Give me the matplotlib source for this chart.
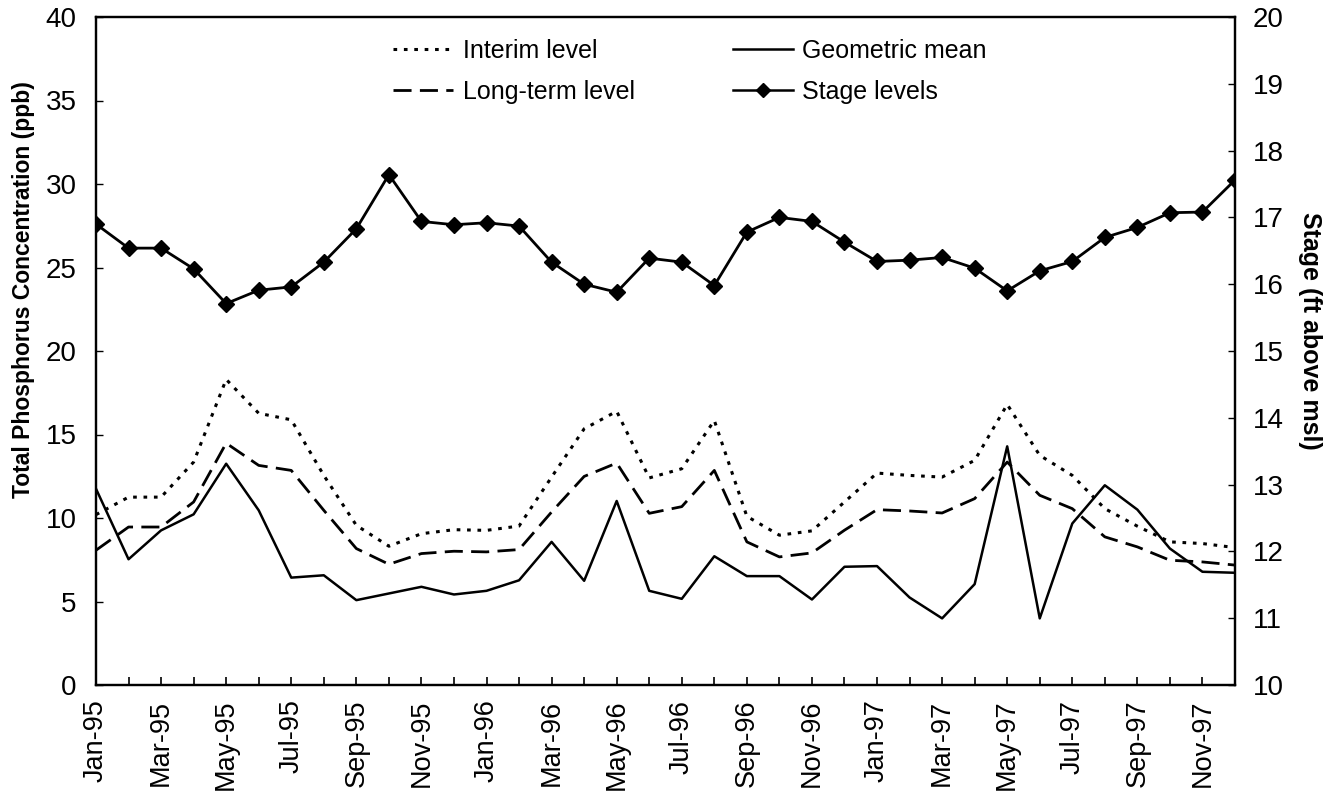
import matplotlib
matplotlib.use("Agg")
import matplotlib.pyplot as plt
from matplotlib.lines import Line2D

plt.rcParams['font.family'] = ['Liberation Sans', 'DejaVu Sans']

months = ['Jan-95', 'Feb-95', 'Mar-95', 'Apr-95', 'May-95', 'Jun-95', 'Jul-95', 'Aug-95',
          'Sep-95', 'Oct-95', 'Nov-95', 'Dec-95', 'Jan-96', 'Feb-96', 'Mar-96', 'Apr-96',
          'May-96', 'Jun-96', 'Jul-96', 'Aug-96', 'Sep-96', 'Oct-96', 'Nov-96', 'Dec-96',
          'Jan-97', 'Feb-97', 'Mar-97', 'Apr-97', 'May-97', 'Jun-97', 'Jul-97', 'Aug-97',
          'Sep-97', 'Oct-97', 'Nov-97', 'Dec-97']

interim = [10.2, 11.25, 11.25, 13.35, 18.3, 16.27, 15.88, 12.55, 9.56, 8.31, 9.06, 9.3,
           9.26, 9.52, 12.45, 15.34, 16.39, 12.4, 12.95, 15.84, 10.1, 8.97, 9.23, 10.96,
           12.69, 12.55, 12.45, 13.45, 16.8, 13.75, 12.55, 10.56, 9.51, 8.57, 8.47, 8.23]

longterm = [8.07, 9.46, 9.46, 10.96, 14.48, 13.15, 12.85, 10.46, 8.17, 7.23, 7.87, 8.01,
            7.97, 8.11, 10.36, 12.49, 13.29, 10.28, 10.68, 12.85, 8.57, 7.67, 7.91, 9.27,
            10.5, 10.42, 10.3, 11.16, 13.35, 11.36, 10.56, 8.87, 8.27, 7.47, 7.37, 7.18]

geomean = [11.75, 7.53, 9.26, 10.22, 13.25, 10.46, 6.43, 6.57, 5.08, 5.48, 5.88, 5.42,
           5.64, 6.27, 8.57, 6.24, 11.02, 5.64, 5.16, 7.71, 6.52, 6.52, 5.12, 7.08,
           7.12, 5.24, 3.99, 6.04, 14.29, 3.99, 9.67, 11.96, 10.5, 8.17, 6.78, 6.72]

stage = [16.90, 16.54, 16.54, 16.23, 15.71, 15.91, 15.96, 16.33, 16.83, 17.64, 16.94, 16.89,
         16.92, 16.87, 16.33, 16.00, 15.88, 16.39, 16.33, 15.98, 16.78, 17.00, 16.94, 16.63,
         16.34, 16.36, 16.40, 16.24, 15.90, 16.20, 16.34, 16.70, 16.85, 17.07, 17.08, 17.56]

x = list(range(len(months)))

W, H = 1331, 795
fig = plt.figure(figsize=(W / 100, H / 100), dpi=100)
ax = fig.add_axes([96 / W, 1 - 685 / H, (1235 - 96) / W, (685 - 17) / H])
ax2 = ax.twinx()

dot_style = dict(color='black', lw=2.2, linestyle=(0, (1.2, 2.2)))
dash_style = dict(color='black', lw=2.0, linestyle=(0, (6.5, 3.0)))
solid_style = dict(color='black', lw=1.8, linestyle='-')

ax.plot(x, interim, **dot_style)
ax.plot(x, longterm, **dash_style)
ax.plot(x, geomean, **solid_style)
ax2.plot(x, stage, color='black', lw=2.0, marker='D', markersize=8.5,
         markerfacecolor='black', markeredgecolor='black')

ax.set_xlim(0, 35)
ax.set_ylim(0, 40)
ax2.set_ylim(10, 20)
ax.set_yticks(range(0, 41, 5))
ax2.set_yticks(range(10, 21, 1))
ax.set_xticks(x)
ax.set_xticklabels([m if i % 2 == 0 else '' for i, m in enumerate(months)],
                   rotation=90, fontsize=19.5)
ax.tick_params(axis='y', direction='in', length=5, labelsize=20, width=1, pad=14)
ax.tick_params(axis='x', direction='in', length=6, width=1.2, pad=10.5)
ax2.tick_params(axis='y', direction='in', length=5, labelsize=20, width=1, pad=13)

for a in (ax, ax2):
    for s in a.spines.values():
        s.set_linewidth(1.6)

fig.text(24 / W, 1 - 290 / H, 'Total Phosphorus Concentration (ppb)', fontsize=16.5,
         fontweight='bold', rotation=90, ha='center', va='center')
fig.text(1310 / W, 1 - 331 / H, 'Stage (ft above msl)', fontsize=18,
         fontweight='bold', rotation=270, ha='center', va='center')

handles = [
    Line2D([], [], **dot_style),
    Line2D([], [], **dash_style),
    Line2D([], [], **solid_style),
    Line2D([], [], color='black', lw=1.8, marker='D', markersize=7),
]
labels = ['Interim level', 'Long-term level', 'Geometric mean', 'Stage levels']
fig.legend(handles, labels, ncol=2, frameon=False, fontsize=18,
           loc='upper left', bbox_to_anchor=(393 / W, 1 - 39 / H),
           bbox_transform=fig.transFigure, borderpad=0, borderaxespad=0,
           columnspacing=3.9, handlelength=2.4, handletextpad=0.4, labelspacing=0.66)

fig.savefig('out.png', dpi=100)
